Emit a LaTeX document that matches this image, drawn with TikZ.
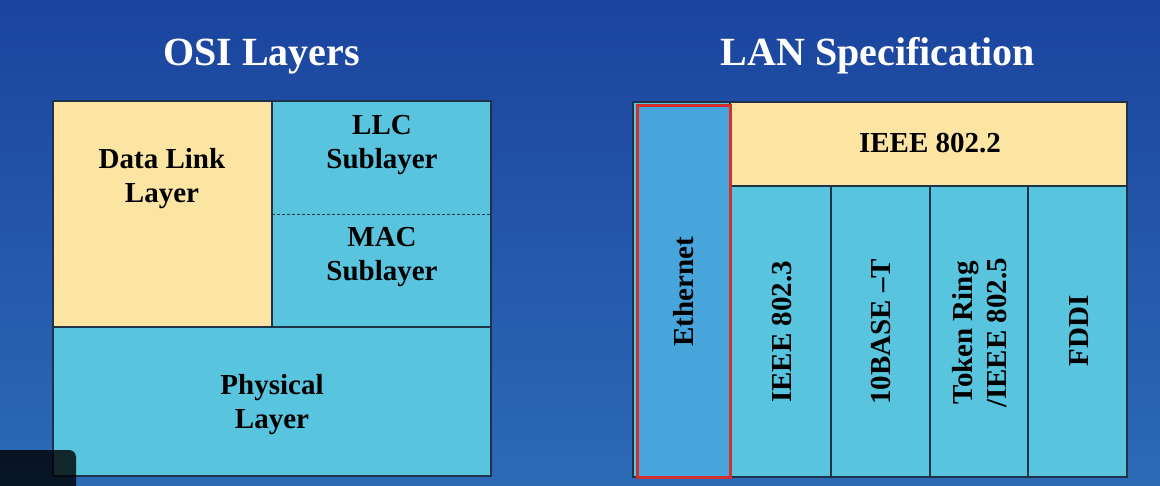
\documentclass[tikz,border=0pt]{standalone}
\usepackage{fontspec}
\setmainfont{Liberation Serif}
\definecolor{bgtop}{HTML}{1B449E}
\definecolor{bgbot}{HTML}{2C6AB6}
\definecolor{yel}{HTML}{FCE5A3}
\definecolor{cyanbox}{HTML}{58C4DE}
\definecolor{eth}{HTML}{47A5DC}
\definecolor{redline}{HTML}{D32F2F}
\definecolor{edge}{HTML}{1E3348}
\definecolor{overlay}{HTML}{02060C}
\begin{document}
\begin{tikzpicture}[x=1pt,y=-1pt,
  boxs/.style={draw=edge,line width=1.1pt,anchor=north west,inner sep=0pt,outer sep=0pt},
  lbl/.style={inner sep=0pt,align=center,font=\bfseries\fontsize{29}{34}\selectfont,text=black},
  vlbl/.style={lbl,rotate=90},
  ttl/.style={inner sep=0pt,anchor=base,font=\bfseries\fontsize{40}{44}\selectfont,text=white}]
\useasboundingbox (0,0) rectangle (1160,486);
\shade[top color=bgtop,bottom color=bgbot] (0,0) rectangle (1160,486);

% titles
\node[ttl] (t1) at (261.5,66) {OSI Layers};
\node[ttl] (t2) at (878,66) {LAN Specification};

% left panel
\node[boxs,fill=yel,minimum width=219pt,minimum height=226pt] (dl) at (53,101) {};
\node[boxs,fill=cyanbox,minimum width=219pt,minimum height=113pt] (llc) at (272,101) {};
\node[boxs,fill=cyanbox,minimum width=219pt,minimum height=113pt] (mac) at (272,214) {};
\node[boxs,fill=cyanbox,minimum width=438pt,minimum height=149pt] (phy) at (53,327) {};
\draw[draw=cyanbox,line width=1.4pt] ([xshift=1pt]llc.south west) -- ([xshift=-1pt]llc.south east);
\draw[edge,line width=0.9pt,dash pattern=on 3pt off 2pt] (llc.south west) -- (llc.south east);

\node[lbl] (dlt) at (162,179) {Data Link\\Layer};
\node[lbl] (llct) at (382,145) {LLC\\Sublayer};
\node[lbl] (mact) at (382,257) {MAC\\Sublayer};
\node[lbl] (phyt) at (272,405) {Physical\\Layer};

% right panel
\node[boxs,fill=cyanbox,minimum width=494pt,minimum height=375pt] (rp) at (633,102) {};
\node[boxs,fill=yel,minimum width=397pt,minimum height=84pt] (i22) at (730,102) {};
\node[boxs,fill=cyanbox,minimum width=101pt,minimum height=291pt] (c1) at (730,186) {};
\node[boxs,fill=cyanbox,minimum width=99pt,minimum height=291pt] (c2) at (831,186) {};
\node[boxs,fill=cyanbox,minimum width=98pt,minimum height=291pt] (c3) at (930,186) {};
\node[boxs,fill=cyanbox,minimum width=99pt,minimum height=291pt] (c4) at (1028,186) {};
\node[draw=redline,line width=3pt,fill=eth,anchor=north west,inner sep=0pt,outer sep=0pt,minimum width=93pt,minimum height=371pt] (et) at (637,106) {};

\node[lbl] (i22t) at (930,143.5) {IEEE 802.2};
\node[vlbl] (ett) at (683.5,292) {Ethernet};
\node[vlbl] (c1t) at (782.5,332) {IEEE 802.3};
\node[vlbl] (c2t) at (881,332) {10BASE –T};
\node[vlbl] (c3t) at (980,333) {Token Ring\\/IEEE 802.5};
\node[vlbl] (c4t) at (1079,331) {FDDI};

% dark overlay in the corner
\fill[overlay,opacity=0.8] (0,486) -- (0,450) [rounded corners=7pt] -- (76,450) [sharp corners] -- (76,486) -- cycle;
\end{tikzpicture}
\end{document}
